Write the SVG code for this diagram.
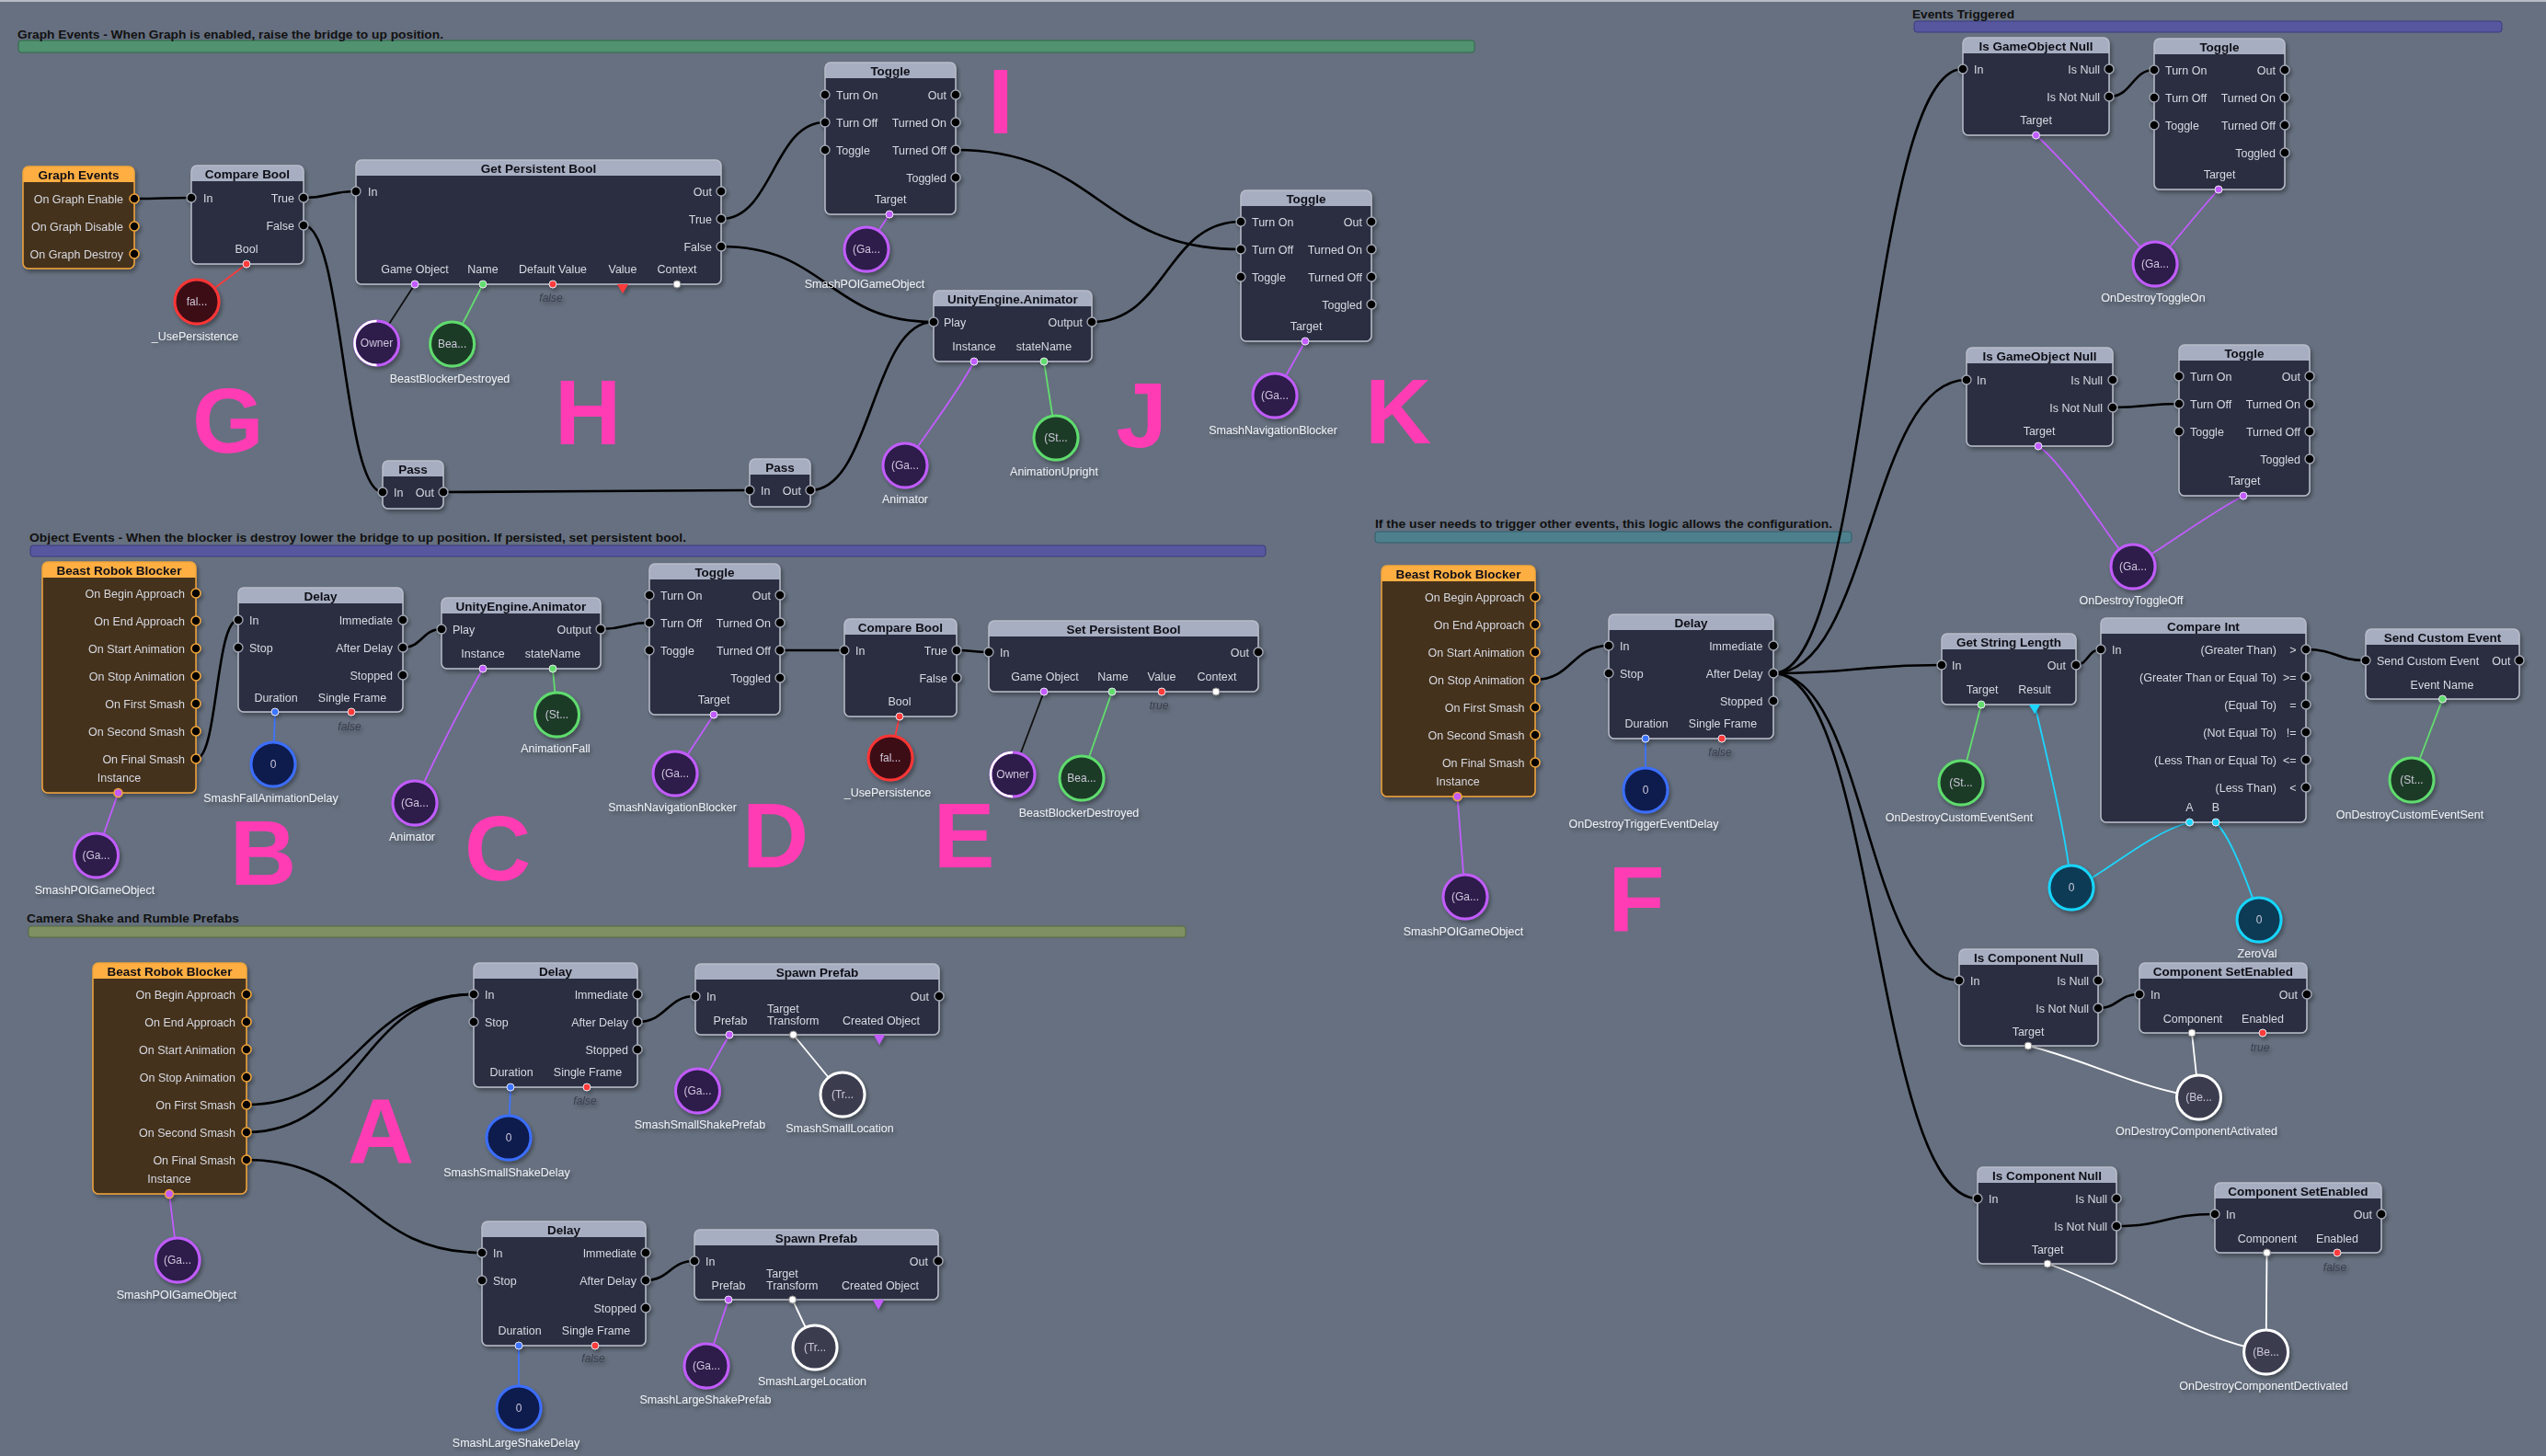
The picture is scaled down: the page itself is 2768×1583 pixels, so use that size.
<svg xmlns="http://www.w3.org/2000/svg" width="2768" height="1583" viewBox="0 0 2768 1583">
<defs>
<filter id="sh" x="-10%" y="-10%" width="130%" height="130%"><feDropShadow dx="2" dy="3" stdDeviation="2" flood-color="#000" flood-opacity="0.35"/></filter>
<style>
.nb{fill:#2c2e40}
.nh{fill:#a7aec1}
.nf{fill:none;stroke:#b9bdca;stroke-width:1.5}
.bb{fill:#45311b}
.bh{fill:#ffae42}
.bf{fill:none;stroke:#f2a53a;stroke-width:1.5}
text{font-family:'Liberation Sans',Arial,sans-serif}
.t{font-size:13.5px;font-weight:bold;fill:#101018;text-anchor:middle}
.l{font-size:12.5px;fill:#d6dae3}
.r{text-anchor:end}
.m{text-anchor:middle}
.v{font-size:12.5px;fill:#eef0f4;text-anchor:middle}
.c{font-size:12px;fill:#cdc8da;text-anchor:middle}
.f{font-size:12px;font-style:italic;fill:#3a3f4d;text-anchor:middle}
.big{font-size:100px;font-weight:bold;fill:#ff3cb4;text-anchor:middle}
.cm{font-size:13px;font-weight:bold;fill:#111}
.p{fill:#000;stroke:#a3a8b6;stroke-width:1.3}
.po{fill:#000;stroke:#f2a53a;stroke-width:1.5}
.x{fill:none;stroke:#000;stroke-width:2.6}
.d{fill:none;stroke-width:1.8}
.spu{stroke:#c25cff}.sgr{stroke:#62dc6e}.srd{stroke:#ff3a3a}.sbl{stroke:#3d74ff}.scy{stroke:#1cd6ff}.swh{stroke:#fff}.sbk{stroke:#111}
.dpu{fill:#c25cff;stroke:#e6e6f0;stroke-width:1}
.dgr{fill:#62dc6e;stroke:#e6e6f0;stroke-width:1}
.drd{fill:#ff3a3a;stroke:#e6e6f0;stroke-width:1}
.dbl{fill:#3d74ff;stroke:#e6e6f0;stroke-width:1}
.dcy{fill:#1cd6ff;stroke:#e6e6f0;stroke-width:1}
.dwh{fill:#fff;stroke:#888;stroke-width:1}
.cpu{fill:#2e1a4c;stroke:#c25cff;stroke-width:3}
.cgr{fill:#1c3a26;stroke:#5fdc6e;stroke-width:3}
.crd{fill:#3d0c13;stroke:#ff3535;stroke-width:3}
.cbl{fill:#0f1a4e;stroke:#3a6eff;stroke-width:3}
.ccy{fill:#073a55;stroke:#18d6ff;stroke-width:3}
.cwh{fill:#3b3d50;stroke:#fff;stroke-width:3}
</style>
</defs>
<rect x="0" y="0" width="2768" height="1583" fill="#667080"/>
<rect x="0" y="0" width="2768" height="2" fill="#b8bcc6"/>

<g id="comments">
<rect x="20" y="44" width="1583" height="13" rx="3" fill="#519270" stroke="#2e6a46"/>
<text class="cm" x="19" y="41.5" textLength="463" lengthAdjust="spacingAndGlyphs">Graph Events - When Graph is enabled, raise the bridge to up position.</text>
<rect x="33" y="593" width="1343" height="12" rx="3" fill="#5757a0" stroke="#3a3a80"/>
<text class="cm" x="32" y="589" textLength="714" lengthAdjust="spacingAndGlyphs">Object Events - When the blocker is destroy lower the bridge to up position. If persisted, set persistent bool.</text>
<rect x="31" y="1007" width="1258" height="12" rx="3" fill="#7f9163" stroke="#556b3a"/>
<text class="cm" x="29" y="1003" textLength="231" lengthAdjust="spacingAndGlyphs">Camera Shake and Rumble Prefabs</text>
<rect x="1495" y="578" width="518" height="12" rx="3" fill="#4e7f8c" stroke="#2f5f6c"/>
<text class="cm" x="1495" y="574" textLength="497" lengthAdjust="spacingAndGlyphs">If the user needs to trigger other events, this logic allows the configuration.</text>
<rect x="2081" y="23" width="639" height="12" rx="3" fill="#5757a0" stroke="#3a3a80"/>
<text class="cm" x="2079" y="19.5" textLength="111" lengthAdjust="spacingAndGlyphs">Events Triggered</text>
</g>

<g id="letters">
<text class="big" x="248" y="492">G</text>
<text class="big" x="639" y="483">H</text>
<text class="big" x="1088" y="145">I</text>
<text class="big" x="1241" y="486">J</text>
<text class="big" x="1520" y="482">K</text>
<text class="big" x="286" y="962">B</text>
<text class="big" x="541" y="957">C</text>
<text class="big" x="843" y="943">D</text>
<text class="big" x="1048" y="943">E</text>
<text class="big" x="414" y="1265">A</text>
<text class="big" x="1779" y="1012">F</text>
</g>

<g id="connectors">
<path class="x" d="M146,216 C177,216 177,215 208,215"/>
<path class="x" d="M330,215 C358,215 359,208 387,208"/>
<path class="x" d="M330,245 C373,245 373,535 416,535"/>
<path class="x" d="M784,238 C840,238 841,133 897,133"/>
<path class="x" d="M784,268 C900,268 900,350 1015,350"/>
<path class="x" d="M482,535 C648,535 649,533 815,533"/>
<path class="x" d="M881,533 C948,533 948,350 1015,350"/>
<path class="x" d="M1039,163 C1194,163 1194,271 1349,271"/>
<path class="x" d="M1187,350 C1268,350 1268,241 1349,241"/>
<path class="x" d="M213,825 C237,825 234,674 259,674"/>
<path class="x" d="M438,704 C459,704 459,684 480,684"/>
<path class="x" d="M653,684 C680,684 680,677 706,677"/>
<path class="x" d="M848,707 C883,707 883,707 918,707"/>
<path class="x" d="M1040,707 C1058,707 1057,709 1075,709"/>
<path class="x" d="M268,1201 C391,1201 391,1081 515,1081"/>
<path class="x" d="M268,1231 C391,1231 391,1081 515,1081"/>
<path class="x" d="M268,1261 C396,1261 396,1362 524,1362"/>
<path class="x" d="M693,1111 C725,1111 725,1083 756,1083"/>
<path class="x" d="M702,1392 C728,1392 728,1371 755,1371"/>
<path class="x" d="M1669,739 C1709,739 1709,702 1749,702"/>
<path class="x" d="M1928,732 C2031,732 2031,75 2134,75"/>
<path class="x" d="M1928,732 C2033,732 2033,413 2138,413"/>
<path class="x" d="M1928,732 C2019,732 2019,723 2111,723"/>
<path class="x" d="M1928,732 C2029,732 2029,1066 2130,1066"/>
<path class="x" d="M1928,732 C2039,732 2039,1303 2150,1303"/>
<path class="x" d="M2293,105 C2318,105 2318,76 2342,76"/>
<path class="x" d="M2297,443 C2333,443 2333,439 2369,439"/>
<path class="x" d="M2257,723 C2270,723 2270,706 2284,706"/>
<path class="x" d="M2507,706 C2540,706 2540,718 2572,718"/>
<path class="x" d="M2281,1096 C2303,1096 2303,1081 2326,1081"/>
<path class="x" d="M2301,1333 C2354,1333 2354,1320 2408,1320"/>

<path class="d srd" d="M268,287 L214,328"/>
<path class="d sbk" d="M451,309 L409.5,373"/>
<path class="d sgr" d="M525,309 L491.6,374"/>
<path class="d spu" d="M967,233 L942,271"/>
<path class="d spu" d="M1059,393 C1040,430 1000,480 984,506"/>
<path class="d sgr" d="M1135,393 L1148,476"/>
<path class="d spu" d="M1419,371 L1386,430"/>
<path class="d spu" d="M128.5,862 L104.5,930"/>
<path class="d sbl" d="M299,774 L297,831"/>
<path class="d spu" d="M525,727 C500,770 465,840 451,873"/>
<path class="d sgr" d="M601,727 L605.5,777"/>
<path class="d spu" d="M776,777 L734,841"/>
<path class="d srd" d="M978,779 L968,824"/>
<path class="d sbk" d="M1135,752 L1101,842"/>
<path class="d sgr" d="M1209,752 L1176,846"/>
<path class="d spu" d="M184,1298 L193,1370"/>
<path class="d sbl" d="M555,1182 L553,1237"/>
<path class="d sbl" d="M564,1463 L564,1531"/>
<path class="d spu" d="M793,1125 L758.5,1186"/>
<path class="d swh" d="M862.5,1125 L916,1190"/>
<path class="d spu" d="M792,1413 L768,1485"/>
<path class="d swh" d="M861.6,1413 L886,1465"/>
<path class="d spu" d="M1584.5,866 L1593,975"/>
<path class="d sbl" d="M1789,803 L1789,859"/>
<path class="d spu" d="M2213.5,147 C2235,165 2300,240 2333,275"/>
<path class="d spu" d="M2412,206 C2395,225 2370,255 2352,277"/>
<path class="d spu" d="M2216,485 C2240,500 2290,580 2310,605"/>
<path class="d spu" d="M2439,539 C2400,560 2360,590 2330,608"/>
<path class="d sgr" d="M2154,766 L2132,851"/>
<path class="d scy" d="M2212,766 C2220,800 2245,900 2250,950"/>
<path class="d scy" d="M2380.5,894 C2340,905 2300,940 2265,960"/>
<path class="d scy" d="M2409,894 C2425,910 2440,950 2452,985"/>
<path class="d sgr" d="M2655.5,760 L2622,848"/>
<path class="d swh" d="M2205,1137 C2260,1150 2320,1180 2375,1190"/>
<path class="d swh" d="M2383,1123 L2390.5,1193"/>
<path class="d swh" d="M2226,1374 C2290,1395 2380,1450 2445,1465"/>
<path class="d swh" d="M2464.5,1362 L2463.6,1470"/>
</g>

<!-- Graph section -->
<g id="n_graph_events" filter="url(#sh)">
<rect class="bb" x="25" y="181" width="121" height="111" rx="6"/>
<path class="bh" d="M25,198V187a6,6 0 0 1 6,-6H140a6,6 0 0 1 6,6V198Z"/>
<rect class="bf" x="25" y="181" width="121" height="111" rx="6"/>
<text class="t" x="85.5" y="194.5">Graph Events</text>
<text class="l r" x="134" y="220.5">On Graph Enable</text>
<text class="l r" x="134" y="250.5">On Graph Disable</text>
<text class="l r" x="134" y="280.5">On Graph Destroy</text>
<circle class="po" cx="146" cy="216" r="5"/><circle class="po" cx="146" cy="246" r="5"/><circle class="po" cx="146" cy="276" r="5"/>
</g>

<g id="n_compare_bool_g" filter="url(#sh)">
<rect class="nb" x="208" y="180" width="122" height="107" rx="6"/>
<path class="nh" d="M208,197V186a6,6 0 0 1 6,-6H324a6,6 0 0 1 6,6V197Z"/>
<rect class="nf" x="208" y="180" width="122" height="107" rx="6"/>
<text class="t" x="269" y="193.5">Compare Bool</text>
<text class="l" x="221" y="219.5">In</text>
<text class="l r" x="320" y="219.5">True</text>
<text class="l r" x="320" y="249.5">False</text>
<text class="l m" x="268" y="274.5">Bool</text>
<circle class="p" cx="208" cy="215" r="5"/><circle class="p" cx="330" cy="215" r="5"/><circle class="p" cx="330" cy="245" r="5"/>
<circle class="drd" cx="268" cy="287" r="4"/>
</g>

<g id="n_get_persistent_bool" filter="url(#sh)">
<rect class="nb" x="387" y="174" width="397" height="135" rx="6"/>
<path class="nh" d="M387,191V180a6,6 0 0 1 6,-6H778a6,6 0 0 1 6,6V191Z"/>
<rect class="nf" x="387" y="174" width="397" height="135" rx="6"/>
<text class="t" x="585.5" y="187.5">Get Persistent Bool</text>
<text class="l" x="400" y="212.5">In</text>
<text class="l r" x="774" y="212.5">Out</text>
<text class="l r" x="774" y="242.5">True</text>
<text class="l r" x="774" y="272.5">False</text>
<text class="l m" x="451" y="296.5">Game Object</text>
<text class="l m" x="525" y="296.5">Name</text>
<text class="l m" x="601" y="296.5">Default Value</text>
<text class="l m" x="677" y="296.5">Value</text>
<text class="l m" x="736" y="296.5">Context</text>
<circle class="p" cx="387" cy="208" r="5"/><circle class="p" cx="784" cy="208" r="5"/><circle class="p" cx="784" cy="238" r="5"/><circle class="p" cx="784" cy="268" r="5"/>
<circle class="dpu" cx="451" cy="309" r="4"/><circle class="dgr" cx="525" cy="309" r="4"/><circle class="drd" cx="601" cy="309" r="4"/>
<polygon points="671,309 683,309 677,319" fill="#ff3a3a"/>
<circle class="dwh" cx="736" cy="309" r="4"/>
<text class="f" x="599" y="328">false</text>
</g>

<g id="n_pass_1" filter="url(#sh)">
<rect class="nb" x="416" y="501" width="66" height="52" rx="6"/>
<path class="nh" d="M416,518V507a6,6 0 0 1 6,-6H476a6,6 0 0 1 6,6V518Z"/>
<rect class="nf" x="416" y="501" width="66" height="52" rx="6"/>
<text class="t" x="449" y="514.5">Pass</text>
<text class="l" x="428" y="539.5">In</text>
<text class="l r" x="472" y="539.5">Out</text>
<circle class="p" cx="416" cy="535" r="5"/><circle class="p" cx="482" cy="535" r="5"/>
</g>

<g id="n_pass_2" filter="url(#sh)">
<rect class="nb" x="815" y="499" width="66" height="52" rx="6"/>
<path class="nh" d="M815,516V505a6,6 0 0 1 6,-6H875a6,6 0 0 1 6,6V516Z"/>
<rect class="nf" x="815" y="499" width="66" height="52" rx="6"/>
<text class="t" x="848" y="512.5">Pass</text>
<text class="l" x="827" y="537.5">In</text>
<text class="l r" x="871" y="537.5">Out</text>
<circle class="p" cx="815" cy="533" r="5"/><circle class="p" cx="881" cy="533" r="5"/>
</g>

<g id="n_toggle_i" filter="url(#sh)">
<rect class="nb" x="897" y="68" width="142" height="165" rx="6"/>
<path class="nh" d="M897,85V74a6,6 0 0 1 6,-6H1033a6,6 0 0 1 6,6V85Z"/>
<rect class="nf" x="897" y="68" width="142" height="165" rx="6"/>
<text class="t" x="968" y="81.5">Toggle</text>
<text class="l" x="909" y="107.5">Turn On</text>
<text class="l" x="909" y="137.5">Turn Off</text>
<text class="l" x="909" y="167.5">Toggle</text>
<text class="l r" x="1029" y="107.5">Out</text>
<text class="l r" x="1029" y="137.5">Turned On</text>
<text class="l r" x="1029" y="167.5">Turned Off</text>
<text class="l r" x="1029" y="197.5">Toggled</text>
<text class="l m" x="968" y="220.5">Target</text>
<circle class="p" cx="897" cy="103" r="5"/><circle class="p" cx="897" cy="133" r="5"/><circle class="p" cx="897" cy="163" r="5"/>
<circle class="p" cx="1039" cy="103" r="5"/><circle class="p" cx="1039" cy="133" r="5"/><circle class="p" cx="1039" cy="163" r="5"/><circle class="p" cx="1039" cy="193" r="5"/>
<circle class="dpu" cx="967" cy="233" r="4"/>
</g>

<g id="n_animator_j" filter="url(#sh)">
<rect class="nb" x="1015" y="316" width="172" height="77" rx="6"/>
<path class="nh" d="M1015,333V322a6,6 0 0 1 6,-6H1181a6,6 0 0 1 6,6V333Z"/>
<rect class="nf" x="1015" y="316" width="172" height="77" rx="6"/>
<text class="t" x="1101" y="329.5">UnityEngine.Animator</text>
<text class="l" x="1026" y="354.5">Play</text>
<text class="l r" x="1177" y="354.5">Output</text>
<text class="l m" x="1059" y="380.5">Instance</text>
<text class="l m" x="1135" y="380.5">stateName</text>
<circle class="p" cx="1015" cy="350" r="5"/><circle class="p" cx="1187" cy="350" r="5"/>
<circle class="dpu" cx="1059" cy="393" r="4"/><circle class="dgr" cx="1135" cy="393" r="4"/>
</g>

<g id="n_toggle_k" filter="url(#sh)">
<rect class="nb" x="1349" y="207" width="142" height="164" rx="6"/>
<path class="nh" d="M1349,224V213a6,6 0 0 1 6,-6H1485a6,6 0 0 1 6,6V224Z"/>
<rect class="nf" x="1349" y="207" width="142" height="164" rx="6"/>
<text class="t" x="1420" y="220.5">Toggle</text>
<text class="l" x="1361" y="245.5">Turn On</text>
<text class="l" x="1361" y="275.5">Turn Off</text>
<text class="l" x="1361" y="305.5">Toggle</text>
<text class="l r" x="1481" y="245.5">Out</text>
<text class="l r" x="1481" y="275.5">Turned On</text>
<text class="l r" x="1481" y="305.5">Turned Off</text>
<text class="l r" x="1481" y="335.5">Toggled</text>
<text class="l m" x="1420" y="358.5">Target</text>
<circle class="p" cx="1349" cy="241" r="5"/><circle class="p" cx="1349" cy="271" r="5"/><circle class="p" cx="1349" cy="301" r="5"/>
<circle class="p" cx="1491" cy="241" r="5"/><circle class="p" cx="1491" cy="271" r="5"/><circle class="p" cx="1491" cy="301" r="5"/><circle class="p" cx="1491" cy="331" r="5"/>
<circle class="dpu" cx="1419" cy="371" r="4"/>
</g>

<g id="v_g_usepersistence" filter="url(#sh)"><circle class="crd" cx="214" cy="328" r="24"/><text class="c" x="214" cy="0" y="332">fal...</text><text class="v" x="212" y="370">_UsePersistence</text></g>
<g id="v_h_owner" filter="url(#sh)"><circle class="cpu" cx="409.5" cy="373" r="24"/><path d="M409.5,349 A24,24 0 0 0 409.5,397" fill="none" stroke="#fff" stroke-width="2.5"/><text class="c" x="409.5" y="377">Owner</text></g>
<g id="v_h_bea" filter="url(#sh)"><circle class="cgr" cx="491.6" cy="374" r="24"/><text class="c" x="491.6" y="378">Bea...</text><text class="v" x="489" y="416">BeastBlockerDestroyed</text></g>
<g id="v_i_ga" filter="url(#sh)"><circle class="cpu" cx="942" cy="271" r="24"/><text class="c" x="942" y="275">(Ga...</text><text class="v" x="940" y="313">SmashPOIGameObject</text></g>
<g id="v_j_ga" filter="url(#sh)"><circle class="cpu" cx="984" cy="506" r="24"/><text class="c" x="984" y="510">(Ga...</text><text class="v" x="984" y="547">Animator</text></g>
<g id="v_j_st" filter="url(#sh)"><circle class="cgr" cx="1148" cy="476" r="24"/><text class="c" x="1148" y="480">(St...</text><text class="v" x="1146" y="517">AnimationUpright</text></g>
<g id="v_k_ga" filter="url(#sh)"><circle class="cpu" cx="1386" cy="430" r="24"/><text class="c" x="1386" y="434">(Ga...</text><text class="v" x="1384" y="472">SmashNavigationBlocker</text></g>

<!-- Object events section -->
<g id="n_beast_b" filter="url(#sh)">
<rect class="bb" x="46" y="611" width="167" height="251" rx="6"/>
<path class="bh" d="M46,628V617a6,6 0 0 1 6,-6H207a6,6 0 0 1 6,6V628Z"/>
<rect class="bf" x="46" y="611" width="167" height="251" rx="6"/>
<text class="t" x="129.5" y="624.5">Beast Robok Blocker</text>
<text class="l r" x="201" y="649.5">On Begin Approach</text>
<text class="l r" x="201" y="679.5">On End Approach</text>
<text class="l r" x="201" y="709.5">On Start Animation</text>
<text class="l r" x="201" y="739.5">On Stop Animation</text>
<text class="l r" x="201" y="769.5">On First Smash</text>
<text class="l r" x="201" y="799.5">On Second Smash</text>
<text class="l r" x="201" y="829.5">On Final Smash</text>
<text class="l m" x="129.5" y="849.5">Instance</text>
<circle class="po" cx="213" cy="645" r="5"/><circle class="po" cx="213" cy="675" r="5"/><circle class="po" cx="213" cy="705" r="5"/><circle class="po" cx="213" cy="735" r="5"/><circle class="po" cx="213" cy="765" r="5"/><circle class="po" cx="213" cy="795" r="5"/><circle class="po" cx="213" cy="825" r="5"/>
<circle cx="128.5" cy="862" r="4.5" fill="#c25cff" stroke="#f2a53a" stroke-width="1.5"/>
</g>

<g id="n_delay_b" filter="url(#sh)">
<rect class="nb" x="259" y="639" width="179" height="135" rx="6"/>
<path class="nh" d="M259,656V645a6,6 0 0 1 6,-6H432a6,6 0 0 1 6,6V656Z"/>
<rect class="nf" x="259" y="639" width="179" height="135" rx="6"/>
<text class="t" x="348.5" y="652.5">Delay</text>
<text class="l" x="271" y="678.5">In</text>
<text class="l" x="271" y="708.5">Stop</text>
<text class="l r" x="427" y="678.5">Immediate</text>
<text class="l r" x="427" y="708.5">After Delay</text>
<text class="l r" x="427" y="738.5">Stopped</text>
<text class="l m" x="300" y="762.5">Duration</text>
<text class="l m" x="383" y="762.5">Single Frame</text>
<circle class="p" cx="259" cy="674" r="5"/><circle class="p" cx="259" cy="704" r="5"/>
<circle class="p" cx="438" cy="674" r="5"/><circle class="p" cx="438" cy="704" r="5"/><circle class="p" cx="438" cy="734" r="5"/>
<circle class="dbl" cx="299" cy="774" r="4"/><circle class="drd" cx="382" cy="774" r="4"/>
<text class="f" x="380" y="794">false</text>
</g>

<g id="n_animator_c" filter="url(#sh)">
<rect class="nb" x="480" y="650" width="173" height="77" rx="6"/>
<path class="nh" d="M480,667V656a6,6 0 0 1 6,-6H647a6,6 0 0 1 6,6V667Z"/>
<rect class="nf" x="480" y="650" width="173" height="77" rx="6"/>
<text class="t" x="566.5" y="663.5">UnityEngine.Animator</text>
<text class="l" x="492" y="688.5">Play</text>
<text class="l r" x="643" y="688.5">Output</text>
<text class="l m" x="525" y="714.5">Instance</text>
<text class="l m" x="601" y="714.5">stateName</text>
<circle class="p" cx="480" cy="684" r="5"/><circle class="p" cx="653" cy="684" r="5"/>
<circle class="dpu" cx="525" cy="727" r="4"/><circle class="dgr" cx="601" cy="727" r="4"/>
</g>

<g id="n_toggle_d" filter="url(#sh)">
<rect class="nb" x="706" y="613" width="142" height="164" rx="6"/>
<path class="nh" d="M706,630V619a6,6 0 0 1 6,-6H842a6,6 0 0 1 6,6V630Z"/>
<rect class="nf" x="706" y="613" width="142" height="164" rx="6"/>
<text class="t" x="777" y="626.5">Toggle</text>
<text class="l" x="718" y="651.5">Turn On</text>
<text class="l" x="718" y="681.5">Turn Off</text>
<text class="l" x="718" y="711.5">Toggle</text>
<text class="l r" x="838" y="651.5">Out</text>
<text class="l r" x="838" y="681.5">Turned On</text>
<text class="l r" x="838" y="711.5">Turned Off</text>
<text class="l r" x="838" y="741.5">Toggled</text>
<text class="l m" x="776" y="764.5">Target</text>
<circle class="p" cx="706" cy="647" r="5"/><circle class="p" cx="706" cy="677" r="5"/><circle class="p" cx="706" cy="707" r="5"/>
<circle class="p" cx="848" cy="647" r="5"/><circle class="p" cx="848" cy="677" r="5"/><circle class="p" cx="848" cy="707" r="5"/><circle class="p" cx="848" cy="737" r="5"/>
<circle class="dpu" cx="776" cy="777" r="4"/>
</g>

<g id="n_compare_bool_e" filter="url(#sh)">
<rect class="nb" x="918" y="673" width="122" height="106" rx="6"/>
<path class="nh" d="M918,690V679a6,6 0 0 1 6,-6H1034a6,6 0 0 1 6,6V690Z"/>
<rect class="nf" x="918" y="673" width="122" height="106" rx="6"/>
<text class="t" x="979" y="686.5">Compare Bool</text>
<text class="l" x="930" y="711.5">In</text>
<text class="l r" x="1030" y="711.5">True</text>
<text class="l r" x="1030" y="741.5">False</text>
<text class="l m" x="978" y="766.5">Bool</text>
<circle class="p" cx="918" cy="707" r="5"/><circle class="p" cx="1040" cy="707" r="5"/><circle class="p" cx="1040" cy="737" r="5"/>
<circle class="drd" cx="978" cy="779" r="4"/>
</g>

<g id="n_set_persistent_bool" filter="url(#sh)">
<rect class="nb" x="1075" y="675" width="293" height="77" rx="6"/>
<path class="nh" d="M1075,692V681a6,6 0 0 1 6,-6H1362a6,6 0 0 1 6,6V692Z"/>
<rect class="nf" x="1075" y="675" width="293" height="77" rx="6"/>
<text class="t" x="1221.5" y="688.5">Set Persistent Bool</text>
<text class="l" x="1087" y="713.5">In</text>
<text class="l r" x="1358" y="713.5">Out</text>
<text class="l m" x="1136" y="739.5">Game Object</text>
<text class="l m" x="1210" y="739.5">Name</text>
<text class="l m" x="1263" y="739.5">Value</text>
<text class="l m" x="1323" y="739.5">Context</text>
<circle class="p" cx="1075" cy="709" r="5"/><circle class="p" cx="1368" cy="709" r="5"/>
<circle class="dpu" cx="1135" cy="752" r="4"/><circle class="dgr" cx="1209" cy="752" r="4"/><circle class="drd" cx="1263" cy="752" r="4"/><circle class="dwh" cx="1322" cy="752" r="4"/>
<text class="f" x="1260" y="771">true</text>
</g>

<g id="v_b_ga" filter="url(#sh)"><circle class="cpu" cx="104.5" cy="930" r="24"/><text class="c" x="104.5" y="934">(Ga...</text><text class="v" x="103" y="972">SmashPOIGameObject</text></g>
<g id="v_b_delay" filter="url(#sh)"><circle class="cbl" cx="297" cy="831" r="24"/><text class="c" x="297" y="835">0</text><text class="v" x="294.5" y="872">SmashFallAnimationDelay</text></g>
<g id="v_c_ga" filter="url(#sh)"><circle class="cpu" cx="451" cy="873" r="24"/><text class="c" x="451" y="877">(Ga...</text><text class="v" x="448" y="914">Animator</text></g>
<g id="v_c_st" filter="url(#sh)"><circle class="cgr" cx="605.5" cy="777" r="24"/><text class="c" x="605.5" y="781">(St...</text><text class="v" x="604" y="818">AnimationFall</text></g>
<g id="v_d_ga" filter="url(#sh)"><circle class="cpu" cx="734" cy="841" r="24"/><text class="c" x="734" y="845">(Ga...</text><text class="v" x="731" y="882">SmashNavigationBlocker</text></g>
<g id="v_e_usepersistence" filter="url(#sh)"><circle class="crd" cx="968" cy="824" r="24"/><text class="c" x="968" y="828">fal...</text><text class="v" x="965" y="866">_UsePersistence</text></g>
<g id="v_e_owner" filter="url(#sh)"><circle class="cpu" cx="1101" cy="842" r="24"/><path d="M1101,818 A24,24 0 0 0 1101,866" fill="none" stroke="#fff" stroke-width="2.5"/><text class="c" x="1101" y="846">Owner</text></g>
<g id="v_e_bea" filter="url(#sh)"><circle class="cgr" cx="1176" cy="846" r="24"/><text class="c" x="1176" y="850">Bea...</text><text class="v" x="1173" y="888">BeastBlockerDestroyed</text></g>

<!-- Camera shake section -->
<g id="n_beast_a" filter="url(#sh)">
<rect class="bb" x="101" y="1047" width="167" height="251" rx="6"/>
<path class="bh" d="M101,1064V1053a6,6 0 0 1 6,-6H262a6,6 0 0 1 6,6V1064Z"/>
<rect class="bf" x="101" y="1047" width="167" height="251" rx="6"/>
<text class="t" x="184.5" y="1060.5">Beast Robok Blocker</text>
<text class="l r" x="256" y="1085.5">On Begin Approach</text>
<text class="l r" x="256" y="1115.5">On End Approach</text>
<text class="l r" x="256" y="1145.5">On Start Animation</text>
<text class="l r" x="256" y="1175.5">On Stop Animation</text>
<text class="l r" x="256" y="1205.5">On First Smash</text>
<text class="l r" x="256" y="1235.5">On Second Smash</text>
<text class="l r" x="256" y="1265.5">On Final Smash</text>
<text class="l m" x="184" y="1285.5">Instance</text>
<circle class="po" cx="268" cy="1081" r="5"/><circle class="po" cx="268" cy="1111" r="5"/><circle class="po" cx="268" cy="1141" r="5"/><circle class="po" cx="268" cy="1171" r="5"/><circle class="po" cx="268" cy="1201" r="5"/><circle class="po" cx="268" cy="1231" r="5"/><circle class="po" cx="268" cy="1261" r="5"/>
<circle cx="184" cy="1298" r="4.5" fill="#c25cff" stroke="#f2a53a" stroke-width="1.5"/>
</g>

<g id="n_delay_a1" filter="url(#sh)">
<rect class="nb" x="515" y="1047" width="178" height="135" rx="6"/>
<path class="nh" d="M515,1064V1053a6,6 0 0 1 6,-6H687a6,6 0 0 1 6,6V1064Z"/>
<rect class="nf" x="515" y="1047" width="178" height="135" rx="6"/>
<text class="t" x="604" y="1060.5">Delay</text>
<text class="l" x="527" y="1085.5">In</text>
<text class="l" x="527" y="1115.5">Stop</text>
<text class="l r" x="683" y="1085.5">Immediate</text>
<text class="l r" x="683" y="1115.5">After Delay</text>
<text class="l r" x="683" y="1145.5">Stopped</text>
<text class="l m" x="556" y="1169.5">Duration</text>
<text class="l m" x="639" y="1169.5">Single Frame</text>
<circle class="p" cx="515" cy="1081" r="5"/><circle class="p" cx="515" cy="1111" r="5"/>
<circle class="p" cx="693" cy="1081" r="5"/><circle class="p" cx="693" cy="1111" r="5"/><circle class="p" cx="693" cy="1141" r="5"/>
<circle class="dbl" cx="555" cy="1182" r="4"/><circle class="drd" cx="638" cy="1182" r="4"/>
<text class="f" x="636" y="1201">false</text>
</g>

<g id="n_delay_a2" filter="url(#sh)">
<rect class="nb" x="524" y="1328" width="178" height="135" rx="6"/>
<path class="nh" d="M524,1345V1334a6,6 0 0 1 6,-6H696a6,6 0 0 1 6,6V1345Z"/>
<rect class="nf" x="524" y="1328" width="178" height="135" rx="6"/>
<text class="t" x="613" y="1341.5">Delay</text>
<text class="l" x="536" y="1366.5">In</text>
<text class="l" x="536" y="1396.5">Stop</text>
<text class="l r" x="692" y="1366.5">Immediate</text>
<text class="l r" x="692" y="1396.5">After Delay</text>
<text class="l r" x="692" y="1426.5">Stopped</text>
<text class="l m" x="565" y="1450.5">Duration</text>
<text class="l m" x="648" y="1450.5">Single Frame</text>
<circle class="p" cx="524" cy="1362" r="5"/><circle class="p" cx="524" cy="1392" r="5"/>
<circle class="p" cx="702" cy="1362" r="5"/><circle class="p" cx="702" cy="1392" r="5"/><circle class="p" cx="702" cy="1422" r="5"/>
<circle class="dbl" cx="564" cy="1463" r="4"/><circle class="drd" cx="647" cy="1463" r="4"/>
<text class="f" x="645" y="1481">false</text>
</g>

<g id="n_spawn_prefab_1" filter="url(#sh)">
<rect class="nb" x="756" y="1048" width="265" height="77" rx="6"/>
<path class="nh" d="M756,1065V1054a6,6 0 0 1 6,-6H1015a6,6 0 0 1 6,6V1065Z"/>
<rect class="nf" x="756" y="1048" width="265" height="77" rx="6"/>
<text class="t" x="888.5" y="1061.5">Spawn Prefab</text>
<text class="l" x="768" y="1087.5">In</text>
<text class="l r" x="1010" y="1087.5">Out</text>
<text class="l" x="834" y="1100.5">Target</text>
<text class="l" x="834" y="1113.5">Transform</text>
<text class="l m" x="794" y="1113.5">Prefab</text>
<text class="l m" x="958" y="1113.5">Created Object</text>
<circle class="p" cx="756" cy="1083" r="5"/><circle class="p" cx="1021" cy="1083" r="5"/>
<circle class="dpu" cx="793" cy="1125" r="4"/><circle class="dwh" cx="862.5" cy="1125" r="4"/>
<polygon points="950,1125 962,1125 956,1136" fill="#c25cff"/>
</g>

<g id="n_spawn_prefab_2" filter="url(#sh)">
<rect class="nb" x="755" y="1337" width="265" height="76" rx="6"/>
<path class="nh" d="M755,1354V1343a6,6 0 0 1 6,-6H1014a6,6 0 0 1 6,6V1354Z"/>
<rect class="nf" x="755" y="1337" width="265" height="76" rx="6"/>
<text class="t" x="887.5" y="1350.5">Spawn Prefab</text>
<text class="l" x="767" y="1375.5">In</text>
<text class="l r" x="1009" y="1375.5">Out</text>
<text class="l" x="833" y="1388.5">Target</text>
<text class="l" x="833" y="1401.5">Transform</text>
<text class="l m" x="792" y="1401.5">Prefab</text>
<text class="l m" x="957" y="1401.5">Created Object</text>
<circle class="p" cx="755" cy="1371" r="5"/><circle class="p" cx="1020" cy="1371" r="5"/>
<circle class="dpu" cx="792" cy="1413" r="4"/><circle class="dwh" cx="861.6" cy="1413" r="4"/>
<polygon points="949,1413 961,1413 955,1424" fill="#c25cff"/>
</g>

<g id="v_a_ga" filter="url(#sh)"><circle class="cpu" cx="193" cy="1370" r="24"/><text class="c" x="193" y="1374">(Ga...</text><text class="v" x="192" y="1412">SmashPOIGameObject</text></g>
<g id="v_a1_delay" filter="url(#sh)"><circle class="cbl" cx="553" cy="1237" r="24"/><text class="c" x="553" y="1241">0</text><text class="v" x="551" y="1279">SmashSmallShakeDelay</text></g>
<g id="v_a2_delay" filter="url(#sh)"><circle class="cbl" cx="564" cy="1531" r="24"/><text class="c" x="564" y="1535">0</text><text class="v" x="561" y="1573">SmashLargeShakeDelay</text></g>
<g id="v_s1_prefab" filter="url(#sh)"><circle class="cpu" cx="758.5" cy="1186" r="24"/><text class="c" x="758.5" y="1190">(Ga...</text><text class="v" x="761" y="1227">SmashSmallShakePrefab</text></g>
<g id="v_s1_loc" filter="url(#sh)"><circle class="cwh" cx="916" cy="1190" r="24"/><text class="c" x="916" y="1194">(Tr...</text><text class="v" x="913" y="1231">SmashSmallLocation</text></g>
<g id="v_s2_prefab" filter="url(#sh)"><circle class="cpu" cx="768" cy="1485" r="24"/><text class="c" x="768" y="1489">(Ga...</text><text class="v" x="767" y="1526">SmashLargeShakePrefab</text></g>
<g id="v_s2_loc" filter="url(#sh)"><circle class="cwh" cx="886" cy="1465" r="24"/><text class="c" x="886" y="1469">(Tr...</text><text class="v" x="883" y="1506">SmashLargeLocation</text></g>

<!-- F section -->
<g id="n_beast_f" filter="url(#sh)">
<rect class="bb" x="1502" y="615" width="167" height="251" rx="6"/>
<path class="bh" d="M1502,632V621a6,6 0 0 1 6,-6H1663a6,6 0 0 1 6,6V632Z"/>
<rect class="bf" x="1502" y="615" width="167" height="251" rx="6"/>
<text class="t" x="1585.5" y="628.5">Beast Robok Blocker</text>
<text class="l r" x="1657.5" y="653.5">On Begin Approach</text>
<text class="l r" x="1657.5" y="683.5">On End Approach</text>
<text class="l r" x="1657.5" y="713.5">On Start Animation</text>
<text class="l r" x="1657.5" y="743.5">On Stop Animation</text>
<text class="l r" x="1657.5" y="773.5">On First Smash</text>
<text class="l r" x="1657.5" y="803.5">On Second Smash</text>
<text class="l r" x="1657.5" y="833.5">On Final Smash</text>
<text class="l m" x="1585" y="853.5">Instance</text>
<circle class="po" cx="1669" cy="649" r="5"/><circle class="po" cx="1669" cy="679" r="5"/><circle class="po" cx="1669" cy="709" r="5"/><circle class="po" cx="1669" cy="739" r="5"/><circle class="po" cx="1669" cy="769" r="5"/><circle class="po" cx="1669" cy="799" r="5"/><circle class="po" cx="1669" cy="829" r="5"/>
<circle cx="1584.5" cy="866" r="4.5" fill="#c25cff" stroke="#f2a53a" stroke-width="1.5"/>
</g>

<g id="n_delay_f" filter="url(#sh)">
<rect class="nb" x="1749" y="668" width="179" height="135" rx="6"/>
<path class="nh" d="M1749,685V674a6,6 0 0 1 6,-6H1922a6,6 0 0 1 6,6V685Z"/>
<rect class="nf" x="1749" y="668" width="179" height="135" rx="6"/>
<text class="t" x="1838.5" y="681.5">Delay</text>
<text class="l" x="1761" y="706.5">In</text>
<text class="l" x="1761" y="736.5">Stop</text>
<text class="l r" x="1916.5" y="706.5">Immediate</text>
<text class="l r" x="1916.5" y="736.5">After Delay</text>
<text class="l r" x="1916.5" y="766.5">Stopped</text>
<text class="l m" x="1790" y="790.5">Duration</text>
<text class="l m" x="1873" y="790.5">Single Frame</text>
<circle class="p" cx="1749" cy="702" r="5"/><circle class="p" cx="1749" cy="732" r="5"/>
<circle class="p" cx="1928" cy="702" r="5"/><circle class="p" cx="1928" cy="732" r="5"/><circle class="p" cx="1928" cy="762" r="5"/>
<circle class="dbl" cx="1789" cy="803" r="4"/><circle class="drd" cx="1872" cy="803" r="4"/>
<text class="f" x="1870" y="822">false</text>
</g>

<g id="v_f_ga" filter="url(#sh)"><circle class="cpu" cx="1593" cy="975" r="24"/><text class="c" x="1593" y="979">(Ga...</text><text class="v" x="1591" y="1017">SmashPOIGameObject</text></g>
<g id="v_f_delay" filter="url(#sh)"><circle class="cbl" cx="1789" cy="859" r="24"/><text class="c" x="1789" y="863">0</text><text class="v" x="1787" y="900">OnDestroyTriggerEventDelay</text></g>

<!-- Events triggered section -->
<g id="n_is_gameobject_null_1" filter="url(#sh)">
<rect class="nb" x="2134" y="41" width="159" height="106" rx="6"/>
<path class="nh" d="M2134,58V47a6,6 0 0 1 6,-6H2287a6,6 0 0 1 6,6V58Z"/>
<rect class="nf" x="2134" y="41" width="159" height="106" rx="6"/>
<text class="t" x="2213.5" y="54.5">Is GameObject Null</text>
<text class="l" x="2146" y="79.5">In</text>
<text class="l r" x="2283" y="79.5">Is Null</text>
<text class="l r" x="2283" y="109.5">Is Not Null</text>
<text class="l m" x="2213.5" y="134.5">Target</text>
<circle class="p" cx="2134" cy="75" r="5"/><circle class="p" cx="2293" cy="75" r="5"/><circle class="p" cx="2293" cy="105" r="5"/>
<circle class="dpu" cx="2213.5" cy="147" r="4"/>
</g>

<g id="n_toggle_on" filter="url(#sh)">
<rect class="nb" x="2342" y="42" width="142" height="164" rx="6"/>
<path class="nh" d="M2342,59V48a6,6 0 0 1 6,-6H2478a6,6 0 0 1 6,6V59Z"/>
<rect class="nf" x="2342" y="42" width="142" height="164" rx="6"/>
<text class="t" x="2413" y="55.5">Toggle</text>
<text class="l" x="2354" y="80.5">Turn On</text>
<text class="l" x="2354" y="110.5">Turn Off</text>
<text class="l" x="2354" y="140.5">Toggle</text>
<text class="l r" x="2474" y="80.5">Out</text>
<text class="l r" x="2474" y="110.5">Turned On</text>
<text class="l r" x="2474" y="140.5">Turned Off</text>
<text class="l r" x="2474" y="170.5">Toggled</text>
<text class="l m" x="2413" y="193.5">Target</text>
<circle class="p" cx="2342" cy="76" r="5"/><circle class="p" cx="2342" cy="106" r="5"/><circle class="p" cx="2342" cy="136" r="5"/>
<circle class="p" cx="2484" cy="76" r="5"/><circle class="p" cx="2484" cy="106" r="5"/><circle class="p" cx="2484" cy="136" r="5"/><circle class="p" cx="2484" cy="166" r="5"/>
<circle class="dpu" cx="2412" cy="206" r="4"/>
</g>

<g id="n_is_gameobject_null_2" filter="url(#sh)">
<rect class="nb" x="2138" y="378" width="159" height="107" rx="6"/>
<path class="nh" d="M2138,395V384a6,6 0 0 1 6,-6H2291a6,6 0 0 1 6,6V395Z"/>
<rect class="nf" x="2138" y="378" width="159" height="107" rx="6"/>
<text class="t" x="2217.5" y="391.5">Is GameObject Null</text>
<text class="l" x="2149" y="417.5">In</text>
<text class="l r" x="2286" y="417.5">Is Null</text>
<text class="l r" x="2286" y="447.5">Is Not Null</text>
<text class="l m" x="2217" y="472.5">Target</text>
<circle class="p" cx="2138" cy="413" r="5"/><circle class="p" cx="2297" cy="413" r="5"/><circle class="p" cx="2297" cy="443" r="5"/>
<circle class="dpu" cx="2216" cy="485" r="4"/>
</g>

<g id="n_toggle_off" filter="url(#sh)">
<rect class="nb" x="2369" y="375" width="142" height="164" rx="6"/>
<path class="nh" d="M2369,392V381a6,6 0 0 1 6,-6H2505a6,6 0 0 1 6,6V392Z"/>
<rect class="nf" x="2369" y="375" width="142" height="164" rx="6"/>
<text class="t" x="2440" y="388.5">Toggle</text>
<text class="l" x="2381" y="413.5">Turn On</text>
<text class="l" x="2381" y="443.5">Turn Off</text>
<text class="l" x="2381" y="473.5">Toggle</text>
<text class="l r" x="2501" y="413.5">Out</text>
<text class="l r" x="2501" y="443.5">Turned On</text>
<text class="l r" x="2501" y="473.5">Turned Off</text>
<text class="l r" x="2501" y="503.5">Toggled</text>
<text class="l m" x="2440" y="526.5">Target</text>
<circle class="p" cx="2369" cy="409" r="5"/><circle class="p" cx="2369" cy="439" r="5"/><circle class="p" cx="2369" cy="469" r="5"/>
<circle class="p" cx="2511" cy="409" r="5"/><circle class="p" cx="2511" cy="439" r="5"/><circle class="p" cx="2511" cy="469" r="5"/><circle class="p" cx="2511" cy="499" r="5"/>
<circle class="dpu" cx="2439" cy="539" r="4"/>
</g>

<g id="n_get_string_length" filter="url(#sh)">
<rect class="nb" x="2111" y="689" width="146" height="77" rx="6"/>
<path class="nh" d="M2111,706V695a6,6 0 0 1 6,-6H2251a6,6 0 0 1 6,6V706Z"/>
<rect class="nf" x="2111" y="689" width="146" height="77" rx="6"/>
<text class="t" x="2184" y="702.5">Get String Length</text>
<text class="l" x="2122" y="727.5">In</text>
<text class="l r" x="2246" y="727.5">Out</text>
<text class="l m" x="2155" y="753.5">Target</text>
<text class="l m" x="2212" y="753.5">Result</text>
<circle class="p" cx="2111" cy="723" r="5"/><circle class="p" cx="2257" cy="723" r="5"/>
<circle class="dgr" cx="2154" cy="766" r="4"/>
<polygon points="2206,766 2218,766 2212,776" fill="#1cd6ff"/>
</g>

<g id="n_compare_int" filter="url(#sh)">
<rect class="nb" x="2284" y="672" width="223" height="222" rx="6"/>
<path class="nh" d="M2284,689V678a6,6 0 0 1 6,-6H2501a6,6 0 0 1 6,6V689Z"/>
<rect class="nf" x="2284" y="672" width="223" height="222" rx="6"/>
<text class="t" x="2395.5" y="685.5">Compare Int</text>
<text class="l" x="2296" y="710.5">In</text>
<text class="l r" x="2475" y="710.5">(Greater Than)</text><text class="l r" x="2496.5" y="710.5">&gt;</text>
<text class="l r" x="2475" y="740.5">(Greater Than or Equal To)</text><text class="l r" x="2496.5" y="740.5">&gt;=</text>
<text class="l r" x="2475" y="770.5">(Equal To)</text><text class="l r" x="2496.5" y="770.5">=</text>
<text class="l r" x="2475" y="800.5">(Not Equal To)</text><text class="l r" x="2496.5" y="800.5">!=</text>
<text class="l r" x="2475" y="830.5">(Less Than or Equal To)</text><text class="l r" x="2496.5" y="830.5">&lt;=</text>
<text class="l r" x="2475" y="860.5">(Less Than)</text><text class="l r" x="2496.5" y="860.5">&lt;</text>
<text class="l m" x="2380.5" y="881.5">A</text>
<text class="l m" x="2409" y="881.5">B</text>
<circle class="p" cx="2284" cy="706" r="5"/>
<circle class="p" cx="2507" cy="706" r="5"/><circle class="p" cx="2507" cy="736" r="5"/><circle class="p" cx="2507" cy="766" r="5"/><circle class="p" cx="2507" cy="796" r="5"/><circle class="p" cx="2507" cy="826" r="5"/><circle class="p" cx="2507" cy="856" r="5"/>
<circle class="dcy" cx="2380.5" cy="894" r="4"/><circle class="dcy" cx="2409" cy="894" r="4"/>
</g>

<g id="n_send_custom_event" filter="url(#sh)">
<rect class="nb" x="2572" y="684" width="167" height="76" rx="6"/>
<path class="nh" d="M2572,701V690a6,6 0 0 1 6,-6H2733a6,6 0 0 1 6,6V701Z"/>
<rect class="nf" x="2572" y="684" width="167" height="76" rx="6"/>
<text class="t" x="2655.5" y="697.5">Send Custom Event</text>
<text class="l" x="2584" y="722.5">Send Custom Event</text>
<text class="l r" x="2729.5" y="722.5">Out</text>
<text class="l m" x="2655" y="748.5">Event Name</text>
<circle class="p" cx="2572" cy="718" r="5"/><circle class="p" cx="2739" cy="718" r="5"/>
<circle class="dgr" cx="2655.5" cy="760" r="4"/>
</g>

<g id="n_is_component_null_1" filter="url(#sh)">
<rect class="nb" x="2130" y="1032" width="151" height="105" rx="6"/>
<path class="nh" d="M2130,1049V1038a6,6 0 0 1 6,-6H2275a6,6 0 0 1 6,6V1049Z"/>
<rect class="nf" x="2130" y="1032" width="151" height="105" rx="6"/>
<text class="t" x="2205.5" y="1045.5">Is Component Null</text>
<text class="l" x="2142" y="1070.5">In</text>
<text class="l r" x="2271" y="1070.5">Is Null</text>
<text class="l r" x="2271" y="1100.5">Is Not Null</text>
<text class="l m" x="2205" y="1125.5">Target</text>
<circle class="p" cx="2130" cy="1066" r="5"/><circle class="p" cx="2281" cy="1066" r="5"/><circle class="p" cx="2281" cy="1096" r="5"/>
<circle class="dwh" cx="2205" cy="1137" r="4"/>
</g>

<g id="n_component_setenabled_1" filter="url(#sh)">
<rect class="nb" x="2326" y="1047" width="182" height="76" rx="6"/>
<path class="nh" d="M2326,1064V1053a6,6 0 0 1 6,-6H2502a6,6 0 0 1 6,6V1064Z"/>
<rect class="nf" x="2326" y="1047" width="182" height="76" rx="6"/>
<text class="t" x="2417" y="1060.5">Component SetEnabled</text>
<text class="l" x="2338" y="1085.5">In</text>
<text class="l r" x="2498" y="1085.5">Out</text>
<text class="l m" x="2384" y="1111.5">Component</text>
<text class="l m" x="2460" y="1111.5">Enabled</text>
<circle class="p" cx="2326" cy="1081" r="5"/><circle class="p" cx="2508" cy="1081" r="5"/>
<circle class="dwh" cx="2383" cy="1123" r="4"/><circle class="drd" cx="2460" cy="1123" r="4"/>
<text class="f" x="2457" y="1143">true</text>
</g>

<g id="n_is_component_null_2" filter="url(#sh)">
<rect class="nb" x="2150" y="1269" width="151" height="105" rx="6"/>
<path class="nh" d="M2150,1286V1275a6,6 0 0 1 6,-6H2295a6,6 0 0 1 6,6V1286Z"/>
<rect class="nf" x="2150" y="1269" width="151" height="105" rx="6"/>
<text class="t" x="2225.5" y="1282.5">Is Component Null</text>
<text class="l" x="2162" y="1307.5">In</text>
<text class="l r" x="2291" y="1307.5">Is Null</text>
<text class="l r" x="2291" y="1337.5">Is Not Null</text>
<text class="l m" x="2226" y="1362.5">Target</text>
<circle class="p" cx="2150" cy="1303" r="5"/><circle class="p" cx="2301" cy="1303" r="5"/><circle class="p" cx="2301" cy="1333" r="5"/>
<circle class="dwh" cx="2226" cy="1374" r="4"/>
</g>

<g id="n_component_setenabled_2" filter="url(#sh)">
<rect class="nb" x="2408" y="1286" width="181" height="76" rx="6"/>
<path class="nh" d="M2408,1303V1292a6,6 0 0 1 6,-6H2583a6,6 0 0 1 6,6V1303Z"/>
<rect class="nf" x="2408" y="1286" width="181" height="76" rx="6"/>
<text class="t" x="2498.5" y="1299.5">Component SetEnabled</text>
<text class="l" x="2420" y="1324.5">In</text>
<text class="l r" x="2579" y="1324.5">Out</text>
<text class="l m" x="2465" y="1350.5">Component</text>
<text class="l m" x="2541" y="1350.5">Enabled</text>
<circle class="p" cx="2408" cy="1320" r="5"/><circle class="p" cx="2589" cy="1320" r="5"/>
<circle class="dwh" cx="2464.5" cy="1362" r="4"/><circle class="drd" cx="2541" cy="1362" r="4"/>
<text class="f" x="2538.5" y="1382">false</text>
</g>

<g id="v_toggle_on" filter="url(#sh)"><circle class="cpu" cx="2343" cy="287" r="24"/><text class="c" x="2343" y="291">(Ga...</text><text class="v" x="2341" y="328">OnDestroyToggleOn</text></g>
<g id="v_toggle_off" filter="url(#sh)"><circle class="cpu" cx="2319" cy="616" r="24"/><text class="c" x="2319" y="620">(Ga...</text><text class="v" x="2317" y="657">OnDestroyToggleOff</text></g>
<g id="v_gsl_st" filter="url(#sh)"><circle class="cgr" cx="2132" cy="851" r="24"/><text class="c" x="2132" y="855">(St...</text><text class="v" x="2130" y="893">OnDestroyCustomEventSent</text></g>
<g id="v_ci_a" filter="url(#sh)"><circle class="ccy" cx="2252" cy="965" r="24"/><text class="c" x="2252" y="969">0</text></g>
<g id="v_zeroval" filter="url(#sh)"><circle class="ccy" cx="2456" cy="1000" r="24"/><text class="c" x="2456" y="1004">0</text><text class="v" x="2454" y="1041">ZeroVal</text></g>
<g id="v_sce_st" filter="url(#sh)"><circle class="cgr" cx="2622" cy="848" r="24"/><text class="c" x="2622" y="852">(St...</text><text class="v" x="2620" y="890">OnDestroyCustomEventSent</text></g>
<g id="v_comp_activated" filter="url(#sh)"><circle class="cwh" cx="2390.5" cy="1193" r="24"/><text class="c" x="2390.5" y="1197">(Be...</text><text class="v" x="2388" y="1234">OnDestroyComponentActivated</text></g>
<g id="v_comp_deactivated" filter="url(#sh)"><circle class="cwh" cx="2463.6" cy="1470" r="24"/><text class="c" x="2463.6" y="1474">(Be...</text><text class="v" x="2461" y="1511">OnDestroyComponentDectivated</text></g>
</svg>
